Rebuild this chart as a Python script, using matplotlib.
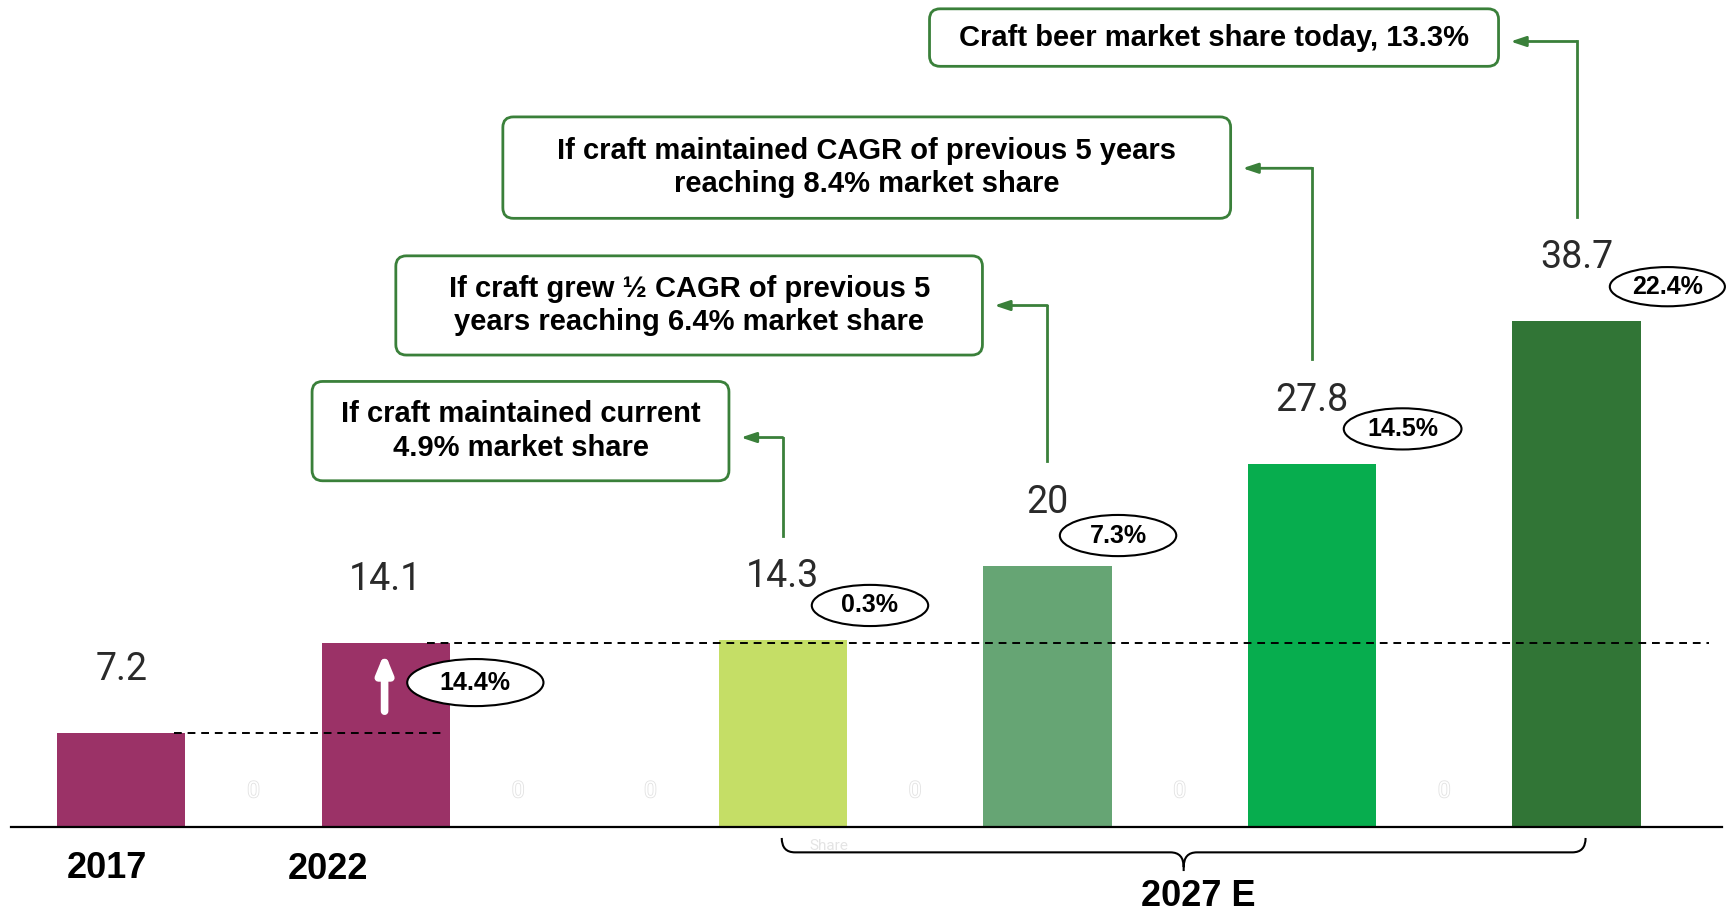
import numpy as np
import matplotlib.pyplot as plt
from matplotlib.patches import FancyBboxPatch, Ellipse, PathPatch
from matplotlib.path import Path
import matplotlib.patheffects as pe
from matplotlib import font_manager

# craft beer volume, 2017 / 2022 actuals and four 2027 scenarios
years = ["2017", "2022"]
forecast_label = "2027 E"
values = [7.2, 0, 14.1, 0, 0, 14.3, 0, 20, 0, 27.8, 0, 38.7]
growth = ["14.4%", "0.3%", "7.3%", "14.5%", "22.4%"]
growth_bars = [2, 5, 7, 9, 11]
scenarios = [
    "If craft maintained current\n4.9% market share",
    "If craft grew \u00bd CAGR of previous 5\nyears reaching 6.4% market share",
    "If craft maintained CAGR of previous 5 years\nreaching 8.4% market share",
    "Craft beer market share today, 13.3%",
]
scenario_bars = [5, 7, 9, 11]

colors = ["#9b3267", "#ffffff", "#9b3267", "#ffffff", "#ffffff", "#c5de66",
          "#ffffff", "#66a574", "#ffffff", "#07ad4e", "#ffffff", "#317536"]
green = "#3a803a"

names = {f.name for f in font_manager.fontManager.ttflist}
narrow = "Liberation Sans Narrow" if "Liberation Sans Narrow" in names else "Liberation Sans"
bold_fam = [narrow, "DejaVu Sans"]

fig = plt.figure(figsize=(17.29, 9.11), dpi=100)
ax = fig.add_axes([0, 0, 1, 1])
# pixel layout: slot 0 at x=121, 132 px per slot, baseline at y=827, 13.07 px per unit
ax.set_xlim(-121.3 / 132.3, (1729 - 121.3) / 132.3)
ax.set_ylim(-84 / 13.07, 827 / 13.07)
ax.axis("off")

x = np.arange(len(values))
ax.bar(x, values, width=0.97, color=colors, zorder=2)
ax.plot([-0.834, 12.1], [0, 0], color="black", lw=1.6, zorder=3)

# value labels
for xi, v in zip(x, values):
    if v > 0:
        ax.text(xi, v + 4.85, f"{v:g}", ha="center", va="center", fontsize=27,
                family="Roboto", color="#2a2a2a", zorder=4)
    else:
        ax.text(xi, 2.7, "0", ha="center", va="center", fontsize=16,
                family="Roboto", color="white", zorder=4,
                path_effects=[pe.withStroke(linewidth=1.2, foreground="#e2e2e2")])

# dashed reference lines at 2017 and 2022 levels
ax.plot([0.40, 2.45], [values[0], values[0]], ls=(0, (4, 3)), color="black", lw=1.4, zorder=3)
ax.plot([2.31, 12.0], [values[2], values[2]], ls=(0, (4, 3)), color="black", lw=1.4, zorder=3)

# white growth arrow inside the 2022 bar
ax.annotate("", xy=(1.99, 13.35), xytext=(1.99, 8.86),
            arrowprops=dict(arrowstyle="-|>,head_width=0.45,head_length=1.1",
                            color="white", lw=5.5, shrinkA=0, shrinkB=0), zorder=4)

# growth badges
badge_dx = [0.676, 0.659, 0.534, 0.685, 0.686]
badge_dy = [-3.05, 2.65, 2.30, 2.66, 2.64]
badge_w = [1.03, 0.88, 0.88, 0.89, 0.87]
badge_h = [3.6, 3.15, 3.15, 3.15, 3.0]
for g, b, dx, dy, w, h in zip(growth, growth_bars, badge_dx, badge_dy, badge_w, badge_h):
    cx, cy = b + dx, values[b] + dy
    ax.add_patch(Ellipse((cx, cy), w, h, facecolor="white", edgecolor="black", lw=1.5, zorder=5))
    ax.text(cx, cy, g, ha="center", va="center", fontsize=18, fontweight="bold",
            family=bold_fam, zorder=6)

# scenario boxes: (left, right, bottom, top)
boxes = [(1.442, 4.593, 26.49, 34.09),
         (2.075, 6.509, 36.11, 43.70),
         (2.884, 8.385, 46.57, 54.33),
         (6.109, 10.41, 58.2, 62.6)]
elbow_y = [29.8, 39.9, 50.4, 60.1]
for txt, b, (l, r, bt, tp), ey in zip(scenarios, scenario_bars, boxes, elbow_y):
    ax.add_patch(FancyBboxPatch((l, bt), r - l, tp - bt,
                                boxstyle="round,pad=0,rounding_size=0.08",
                                mutation_aspect=10, facecolor="white",
                                edgecolor=green, lw=2, zorder=5))
    ax.text((l + r) / 2, (bt + tp) / 2, txt, ha="center", va="center",
            fontsize=21, fontweight="bold", family=bold_fam, linespacing=1.25, zorder=6)
    start = values[b] + 8.0
    ax.plot([b, b], [start, ey], color=green, lw=2, zorder=4)
    ax.annotate("", xy=(r + 0.09, ey), xytext=(b, ey),
                arrowprops=dict(arrowstyle="-|>,head_width=0.3,head_length=0.9",
                                color=green, lw=2, shrinkA=0, shrinkB=0), zorder=4)

# brace under the 2027 scenarios
bl, br, btop, bmid, btip = 4.992, 11.068, -0.84, -1.94, -3.37
cm = (bl + br) / 2
verts = [(bl, btop), (bl, bmid), (bl + 0.1, bmid), (bl + 0.1, bmid),
         (cm - 0.1, bmid), (cm - 0.1, bmid), (cm, bmid), (cm, btip),
         (cm, bmid), (cm + 0.1, bmid), (cm + 0.1, bmid),
         (br - 0.1, bmid), (br - 0.1, bmid), (br, bmid), (br, btop)]
codes = [Path.MOVETO, Path.CURVE3, Path.CURVE3, Path.LINETO,
         Path.LINETO, Path.CURVE3, Path.CURVE3, Path.LINETO,
         Path.MOVETO, Path.CURVE3, Path.CURVE3,
         Path.LINETO, Path.CURVE3, Path.CURVE3, Path.LINETO]
codes = [Path.MOVETO, Path.CURVE3, Path.CURVE3, Path.LINETO,
         Path.CURVE3, Path.CURVE3, Path.LINETO, Path.LINETO,
         Path.MOVETO, Path.CURVE3, Path.CURVE3,
         Path.LINETO, Path.CURVE3, Path.CURVE3, Path.LINETO]
verts = [(bl, btop), (bl, bmid), (bl + 0.1, bmid),
         (cm - 0.1, bmid),
         (cm, bmid), (cm, btip + 0.3),
         (cm, btip), (cm, btip),
         (cm, btip + 0.3), (cm, bmid), (cm + 0.1, bmid),
         (br - 0.1, bmid), (br, bmid), (br, btop), (br, btop)]
ax.add_patch(PathPatch(Path(verts, codes), facecolor="none", edgecolor="black", lw=1.5, zorder=3))
ax.text(5.35, -1.45, "Share", fontsize=11, family="Roboto", color="#e4e4e4", ha="center", va="center")

# year labels
ax.text(-0.108, -3.2, years[0], ha="center", va="center", fontsize=26,
        fontweight="bold", family=bold_fam)
ax.text(1.559, -3.27, years[1], ha="center", va="center", fontsize=26,
        fontweight="bold", family=bold_fam)
ax.text(8.14, -5.32, forecast_label, ha="center", va="center", fontsize=26,
        fontweight="bold", family=bold_fam)

fig.savefig("out.png", dpi=100, facecolor="white")
